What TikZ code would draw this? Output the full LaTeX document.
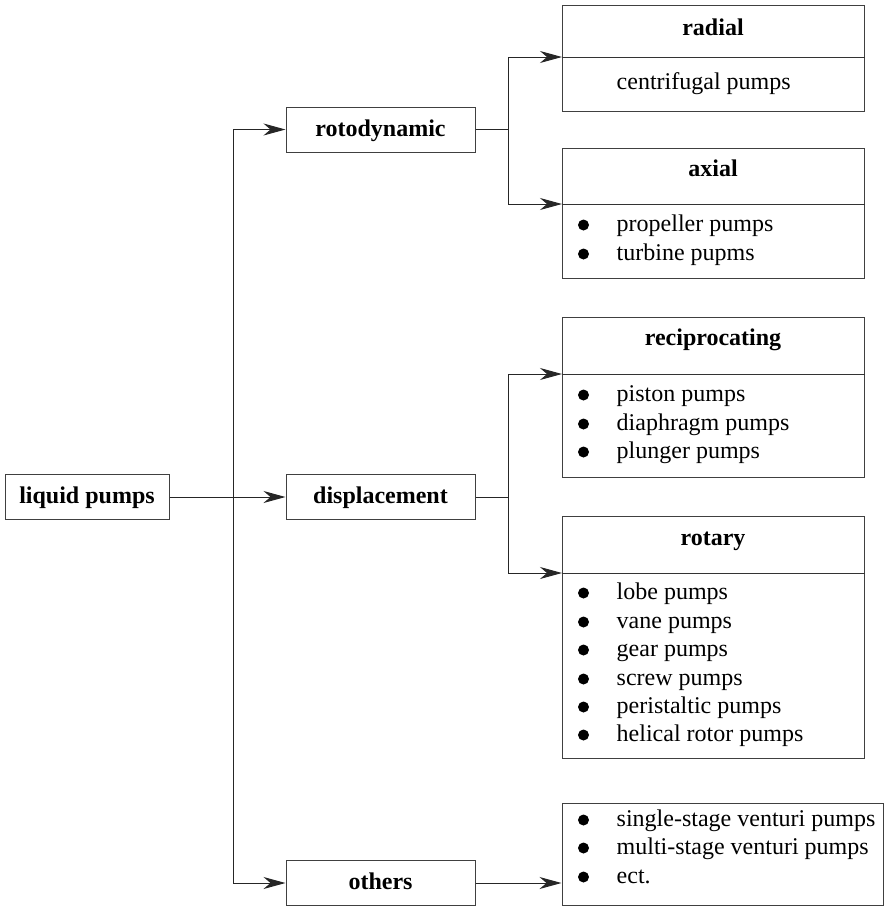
\documentclass[tikz,border=0pt]{standalone}
\usepackage{fontspec}
\setmainfont{Liberation Serif}
\usetikzlibrary{arrows.meta,calc}
\begin{document}
\begin{tikzpicture}[x=1pt,y=-1pt,
  box/.style={draw=black!75, line width=1pt, inner sep=0pt, minimum height=45pt, minimum width=189pt,
    font=\fontsize{24pt}{28pt}\selectfont\bfseries, text height=17pt, text depth=4pt},
  catbox/.style={draw=black!75, line width=1pt, inner sep=0pt},
  divider/.style={draw=black!80, line width=1pt},
  title/.style={font=\fontsize{24pt}{28pt}\selectfont\bfseries, anchor=base, inner sep=0pt},
  item/.style={font=\fontsize{24pt}{28pt}\selectfont, anchor=base west, inner sep=0pt},
  conn/.style={draw=black!85, line width=1pt},
  arr/.style={conn, -{Stealth[length=22pt,width=12pt,inset=7pt]}}]
\useasboundingbox (0,0) rectangle (885,906);

% main column
\node[box, minimum width=164pt] (lp) at (87,497) {liquid pumps};
\node[box] (roto) at (380.5,129.5) {rotodynamic};
\node[box] (disp) at (380.5,497) {displacement};
\node[box] (oth) at (380.5,883) {others};

% radial
\node[catbox, minimum width=302pt, minimum height=106pt] (radial) at (713,58) {};
\coordinate (radialD) at (562,57);
\draw[divider] (radialD) -- (radialD -| radial.east);
\node[title] (radialT) at (713,35) {radial};
\node[item] (radial1) at (616.5,89) {centrifugal pumps};

% axial
\node[catbox, minimum width=302pt, minimum height=130pt] (axial) at (713,213) {};
\coordinate (axialD) at (562,204);
\draw[divider] (axialD) -- (axialD -| axial.east);
\node[title] (axialT) at (713,176) {axial};
\node[item] (axial1) at (616.5,231) {propeller pumps};
\node[item] (axial2) at (616.5,260) {turbine pupms};
\foreach \yy in {225,254} \fill (583.5,\yy) circle (5.5pt);

% reciprocating
\node[catbox, minimum width=302pt, minimum height=160pt] (recip) at (713,397) {};
\coordinate (recipD) at (562,374);
\draw[divider] (recipD) -- (recipD -| recip.east);
\node[title] (recipT) at (713,345) {reciprocating};
\node[item] (recip1) at (616.5,401) {piston pumps};
\node[item] (recip2) at (616.5,430) {diaphragm pumps};
\node[item] (recip3) at (616.5,458) {plunger pumps};
\foreach \yy in {395,424,452} \fill (583.5,\yy) circle (5.5pt);

% rotary
\node[catbox, minimum width=302pt, minimum height=242pt] (rotary) at (713,637) {};
\coordinate (rotaryD) at (562,573);
\draw[divider] (rotaryD) -- (rotaryD -| rotary.east);
\node[title] (rotaryT) at (713,545) {rotary};
\node[item] (rot1) at (616.5,599) {lobe pumps};
\node[item] (rot2) at (616.5,628) {vane pumps};
\node[item] (rot3) at (616.5,656) {gear pumps};
\node[item] (rot4) at (616.5,685) {screw pumps};
\node[item] (rot5) at (616.5,713) {peristaltic pumps};
\node[item] (rot6) at (616.5,741) {helical rotor pumps};
\foreach \yy in {593,622,650,679,707,735} \fill (583.5,\yy) circle (5.5pt);

% others list
\node[catbox, minimum width=321pt, minimum height=102pt] (list) at (722.5,854) {};
\node[item] (list1) at (616.5,826) {single-stage venturi pumps};
\node[item] (list2) at (616.5,854) {multi-stage venturi pumps};
\node[item] (list3) at (616.5,883) {ect.};
\foreach \yy in {820,848,877} \fill (583.5,\yy) circle (5.5pt);

% connectors
\coordinate (trunk) at (233,497);
\draw[arr] (lp.east) -- (disp.west);
\draw[arr] (trunk) |- (roto.west);
\draw[arr] (trunk) |- (oth.west);

\coordinate (b1) at (508,129.5);
\draw[conn] (roto.east) -- (b1);
\draw[arr] (b1) |- (radialD);
\draw[arr] (b1) |- (axialD);

\coordinate (b2) at (508,497);
\draw[conn] (disp.east) -- (b2);
\draw[arr] (b2) |- (recipD);
\draw[arr] (b2) |- (rotaryD);

\draw[arr] (oth.east) -- (oth.east -| list.west);
\end{tikzpicture}
\end{document}
